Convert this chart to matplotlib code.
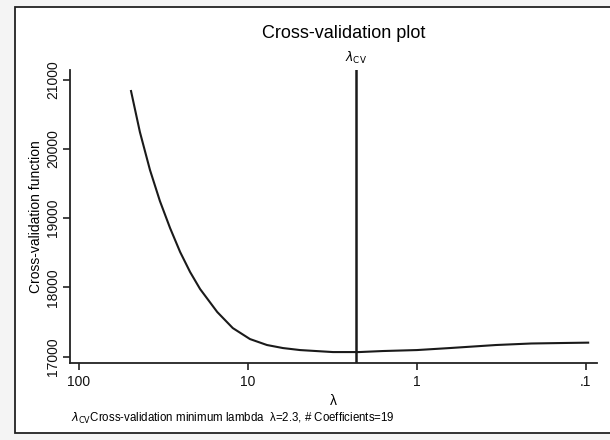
import numpy as np
import matplotlib.pyplot as plt
from matplotlib.patches import Rectangle

plt.rcParams['font.family'] = ['Liberation Sans', 'DejaVu Sans']

# Cross-validation curve
lambdas = [49.2, 43.6, 38.0, 33.2, 28.9, 25.2, 22.0, 19.2, 15.2, 12.3, 9.73,
           7.72, 6.21, 4.92, 3.14, 2.20, 1.59, 1.0, 0.64, 0.34, 0.21, 0.137, 0.097]
cv_values = [20838, 20246, 19697, 19249, 18858, 18512, 18223, 17977, 17645,
             17413, 17254, 17168, 17124, 17095, 17066, 17066, 17081, 17095, 17124,
             17168, 17190, 17197, 17202]
lambda_cv = 2.3
n_coef = 19

xticks = [100, 10, 1, 0.1]
xticklabels = ['100', '10', '1', '.1']
yticks = [17000, 18000, 19000, 20000, 21000]

W, H = 610, 440
fig = plt.figure(figsize=(W / 100, H / 100), dpi=100)
fig.patch.set_facecolor('#f4f4f4')

# scanned page frame (behind the axes)
fig.add_artist(Rectangle((15 / W, 7 / H), 600 / W, 426 / H, transform=fig.transFigure,
                         facecolor='white', edgecolor='#222222', linewidth=1.3,
                         zorder=-5))

ax = fig.add_axes([70 / W, (H - 363) / H, 527 / W, 293 / H])
ax.set_facecolor('white')
ax.plot(lambdas, cv_values, color='#1a1a1a', linewidth=1.5)
ax.axvline(lambda_cv, color='#1a1a1a', linewidth=1.8)

ax.set_xscale('log')
ax.set_xlim(113, 0.086)
ax.set_ylim(16908, 21142)
ax.set_xticks(xticks)
ax.set_xticklabels(xticklabels)
ax.minorticks_off()
ax.set_yticks(yticks)
ax.set_yticklabels([str(v) for v in yticks], rotation=90, va='center')

for side in ['top', 'right']:
    ax.spines[side].set_visible(False)
for side in ['left', 'bottom']:
    ax.spines[side].set_linewidth(1.3)
    ax.spines[side].set_color('#222222')
ax.tick_params(axis='both', direction='out', length=5, width=1.2, colors='#222222',
               labelsize=10, labelcolor='#111111')
ax.tick_params(axis='y', pad=2)

ax.set_ylabel('Cross-validation function', fontsize=10, labelpad=2)
ax.set_xlabel('λ', fontsize=10, labelpad=4)

ax.text(lambda_cv, 1.015, r'$\lambda_{\mathrm{CV}}$', transform=ax.get_xaxis_transform(),
        ha='center', va='bottom', fontsize=9)

fig.text(344 / W, 1 - 33 / H, 'Cross-validation plot', ha='center', va='center',
         fontsize=13)
fig.text(71 / W, 1 - 418 / H,
         r'$\lambda_{\mathrm{CV}}$Cross-validation minimum lambda  '
         + f'λ={lambda_cv}, # Coefficients={n_coef}',
         ha='left', va='center', fontsize=8.3)

fig.savefig('out.png', dpi=100, facecolor=fig.get_facecolor())
